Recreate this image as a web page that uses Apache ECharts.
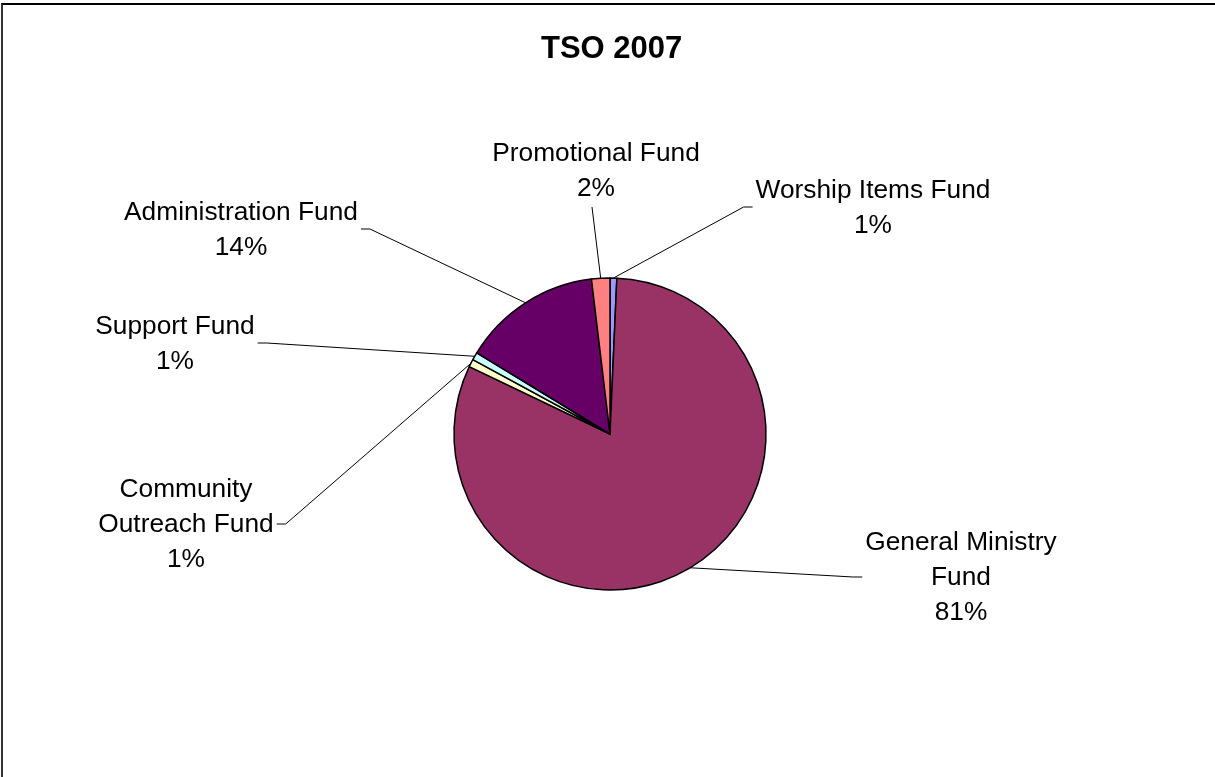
<!DOCTYPE html>
<html><head><meta charset="utf-8">
<script src="https://cdn.jsdelivr.net/npm/echarts@6/dist/echarts.min.js"></script>
<style>
html,body{margin:0;padding:0;background:#fff;overflow:hidden;width:1215px;height:777px;}
#frame{position:absolute;left:1px;top:3px;width:1400px;height:1000px;border-top:2px solid #000;border-left:2px solid #333;}
#chart{position:absolute;left:0;top:0;width:1215px;height:777px;}
</style></head><body>
<div id="frame"></div>
<div id="chart"></div>
<script>
const titleText = 'TSO 2007';
const categories = ['Worship Items Fund', 'General Ministry\nFund', 'Community\nOutreach Fund', 'Support Fund', 'Administration Fund', 'Promotional Fund'];
const values = [0.7, 81.4, 0.8, 0.8, 14.4, 1.9];
const colors = ['#9999FF', '#993366', '#FFFFCC', '#CCFFFF', '#660066', '#FF8080'];

// label block centres (layout only)
const labelCenters = [[873, 208], [961, 578], [186, 525], [175, 344], [241, 230], [596, 171]];

const FONT = '"Liberation Sans", Arial, sans-serif';
const chart = echarts.init(document.getElementById('chart'), null, {renderer: 'canvas'});

const seriesData = categories.map((name, i) => ({
  name: name,
  value: values[i],
  itemStyle: {color: colors[i]}
}));

chart.setOption({
  animation: false,
  title: {
    text: titleText,
    left: 536,
    top: 29,
    textStyle: {fontFamily: FONT, fontWeight: 'bold', fontSize: 31, color: '#000'}
  },
  series: [{
    type: 'pie',
    center: [610, 434],
    radius: 156,
    startAngle: 90,
    clockwise: true,
    avoidLabelOverlap: false,
    minShowLabelAngle: 0,
    percentPrecision: 2,
    itemStyle: {borderColor: '#000', borderWidth: 1.5},
    emphasis: {disabled: true},
    label: {
      show: true,
      position: 'outside',
      overflow: 'none',
      fontFamily: FONT,
      fontSize: 26.3,
      lineHeight: 35,
      color: '#000',
      align: 'center',
      formatter: p => p.name + '\n' + Math.round(p.percent) + '%'
    },
    labelLine: {
      show: true,
      length: 10,
      length2: 10,
      smooth: false,
      lineStyle: {color: '#000', width: 1}
    },
    labelLayout: function (p) {
      const c = labelCenters[p.dataIndex];
      const w = p.labelRect.width, h = p.labelRect.height;
      const pts = p.labelLinePoints;
      const a = pts ? pts[0] : [c[0], c[1]];
      const dx = a[0] - c[0], dy = a[1] - c[1];
      let end, mid;
      if (Math.abs(dx) < w / 2) {
        const ey = c[1] + (dy > 0 ? 1 : -1) * (h / 2 + 1);
        end = [c[0] - 4, ey];
        mid = end;
      } else {
        const s = dx > 0 ? 1 : -1;
        const ex = c[0] + s * (w / 2 + 3);
        end = [ex, c[1] - 1];
        mid = [ex + s * 9, c[1] - 1];
      }
      return {
        x: c[0], y: c[1],
        align: 'center', verticalAlign: 'middle',
        labelLinePoints: [a, mid, end]
      };
    },
    data: seriesData
  }]
});
</script>
</body></html>
